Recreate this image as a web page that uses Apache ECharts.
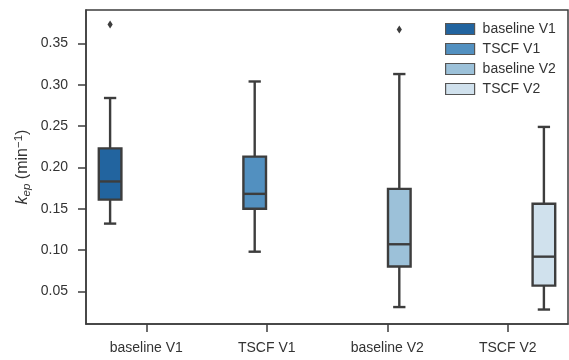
<!DOCTYPE html>
<html>
<head>
<meta charset="utf-8">
<script src="https://cdn.jsdelivr.net/npm/echarts@6/dist/echarts.min.js"></script>
<style>html,body{margin:0;padding:0;background:#fff}#c{width:569px;height:360px}</style>
</head>
<body>
<div id="c"></div>
<script>
// Categories (x axis) and hue groups
var categories = ['baseline V1', 'TSCF V1', 'baseline V2', 'TSCF V2'];
var groupNames = ['baseline V1', 'TSCF V1', 'baseline V2', 'TSCF V2'];
var groupColors = ['#22649f', '#5290c0', '#9cc1d9', '#d0e1ed'];
// Box statistics per group: [low whisker, Q1, median, Q3, high whisker]
var statsBaselineV1 = [0.132, 0.161, 0.183, 0.223, 0.284];
var statsTSCFV1 = [0.098, 0.150, 0.168, 0.213, 0.304];
var statsBaselineV2 = [0.031, 0.080, 0.107, 0.174, 0.313];
var statsTSCFV2 = [0.028, 0.057, 0.092, 0.156, 0.249];
// Outliers: [category index, hue index, value]
var outliers = [[0, 0, 0.373], [2, 2, 0.367]];
// Y tick labels
var yTicks = [0.05, 0.10, 0.15, 0.20, 0.25, 0.30, 0.35];

var allStats = [statsBaselineV1, statsTSCFV1, statsBaselineV2, statsTSCFV2];
var lineColor = '#3d3d3d';
var textColor = '#333333';
var nHue = groupNames.length;

function hueOffset(h, bw) {
  return (-0.4 + 0.2 * h + 0.1) * bw;
}

function renderBox(hue) {
  return function (params, api) {
    var cat = api.value(0);
    var bw = api.size([1, 0])[0];
    var off = hueOffset(hue, bw);
    var lo = api.coord([cat, api.value(1)]);
    var q1 = api.coord([cat, api.value(2)]);
    var med = api.coord([cat, api.value(3)]);
    var q3 = api.coord([cat, api.value(4)]);
    var hi = api.coord([cat, api.value(5)]);
    var cx = lo[0] + off;
    var w = 0.2 * bw - 1.5;
    var cap = w / 2;
    var ls = { stroke: lineColor, lineWidth: 2.4 };
    return {
      type: 'group',
      children: [
        { type: 'line', shape: { x1: cx, y1: q1[1], x2: cx, y2: lo[1] }, style: ls },
        { type: 'line', shape: { x1: cx, y1: q3[1], x2: cx, y2: hi[1] }, style: ls },
        { type: 'line', shape: { x1: cx - cap / 2 - 0.5, y1: lo[1], x2: cx + cap / 2 + 0.5, y2: lo[1] }, style: ls },
        { type: 'line', shape: { x1: cx - cap / 2 - 0.5, y1: hi[1], x2: cx + cap / 2 + 0.5, y2: hi[1] }, style: ls },
        { type: 'rect', shape: { x: cx - w / 2, y: q3[1], width: w, height: q1[1] - q3[1] },
          style: { fill: api.visual('color'), stroke: lineColor, lineWidth: 2.4 } },
        { type: 'line', shape: { x1: cx - w / 2, y1: med[1], x2: cx + w / 2, y2: med[1] }, style: ls }
      ]
    };
  };
}

var series = groupNames.map(function (name, h) {
  var s = allStats[h];
  return {
    name: name,
    type: 'custom',
    itemStyle: { color: groupColors[h] },
    renderItem: renderBox(h),
    encode: { x: 0, y: [1, 2, 3, 4, 5] },
    data: [[h, s[0], s[1], s[2], s[3], s[4]]],
    z: 2
  };
});

series.push({
  name: 'outliers',
  type: 'custom',
  renderItem: function (params, api) {
    var cat = api.value(0);
    var hue = api.value(1);
    var bw = api.size([1, 0])[0];
    var p = api.coord([cat, api.value(2)]);
    var cx = p[0] + hueOffset(hue, bw);
    var cy = p[1];
    return {
      type: 'polygon',
      shape: { points: [[cx, cy - 4], [cx + 2.6, cy], [cx, cy + 4], [cx - 2.6, cy]] },
      style: { fill: lineColor }
    };
  },
  encode: { x: 0, y: 2 },
  data: outliers,
  z: 3
});

var chart = echarts.init(document.getElementById('c'), null, { renderer: 'canvas' });
chart.setOption({
  animation: false,
  backgroundColor: '#ffffff',
  textStyle: { fontFamily: 'Liberation Sans, Arial, sans-serif' },
  grid: { left: 86, right: 1, top: 10, bottom: 36, show: true, borderColor: lineColor, borderWidth: 1.5, backgroundColor: 'transparent' },
  legend: {
    orient: 'vertical',
    left: 440,
    top: 17,
    itemWidth: 29,
    itemHeight: 11,
    itemGap: 6,
    icon: 'rect',
    textStyle: { fontSize: 14, color: textColor, padding: [0, 0, 0, 3] },
    data: groupNames.map(function (n, i) {
      return { name: n, itemStyle: { color: groupColors[i], borderColor: '#555555', borderWidth: 1.2 } };
    })
  },
  xAxis: {
    type: 'category',
    data: categories,
    axisLine: { show: true, lineStyle: { color: lineColor, width: 1.5 } },
    axisTick: { show: true, alignWithLabel: true, length: 8, lineStyle: { color: lineColor, width: 1.5 } },
    axisLabel: { fontSize: 14, color: textColor, margin: 17 },
    splitLine: { show: false }
  },
  yAxis: {
    type: 'value',
    min: 0.0105,
    max: 0.3905,
    name: '{k|k}{sub|ep} (min{sup|−1})',
    nameLocation: 'middle',
    nameGap: 53,
    nameMoveOverlap: false,
    nameTextStyle: {
      fontSize: 16, color: textColor, lineHeight: 20,
      rich: {
        k: { fontSize: 16, fontStyle: 'italic', color: textColor, lineHeight: 20, verticalAlign: 'middle' },
        sub: { fontSize: 11.5, fontStyle: 'italic', color: textColor, lineHeight: 20, verticalAlign: 'bottom' },
        sup: { fontSize: 11.5, color: textColor, lineHeight: 20, verticalAlign: 'top' }
      }
    },
    axisLine: { show: true, lineStyle: { color: lineColor, width: 1.5 } },
    axisTick: { show: true, length: 8, customValues: yTicks, lineStyle: { color: lineColor, width: 1.5 } },
    axisLabel: {
      fontSize: 14, color: textColor, margin: 18, customValues: yTicks,
      formatter: function (v) { return v.toFixed(2); }
    },
    splitLine: { show: false }
  },
  series: series
});
</script>
</body>
</html>
